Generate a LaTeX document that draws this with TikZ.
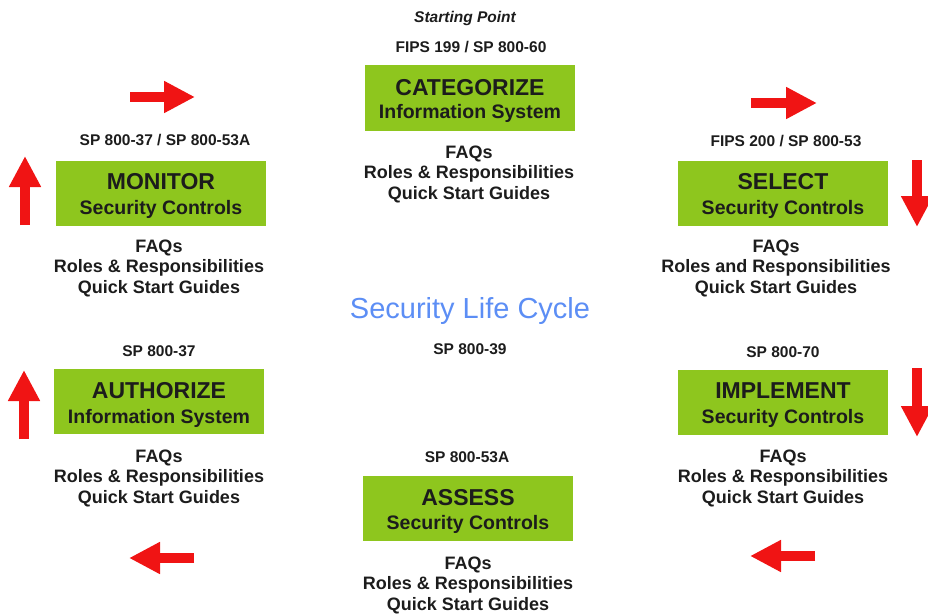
\documentclass[tikz,border=0pt]{standalone}
\usepackage{fontspec}
\setmainfont{Liberation Sans}
\usetikzlibrary{arrows.meta}
\definecolor{boxgreen}{RGB}{142,198,30}
\definecolor{arrred}{RGB}{240,20,20}
\definecolor{lifeblue}{RGB}{92,142,245}
\definecolor{textdark}{RGB}{28,28,28}
\begin{document}
\begin{tikzpicture}[x=1pt,y=-1pt,
  stepbox/.style={fill=boxgreen, minimum width=210pt, minimum height=65pt, inner sep=0pt},
  titletxt/.style={font=\fontsize{23}{26}\selectfont\bfseries, text=textdark, inner sep=0pt, text height=16.5pt, text depth=0pt},
  subtxt/.style={font=\fontsize{19.5}{22}\selectfont\bfseries, text=textdark, inner sep=0pt, text height=14pt, text depth=0pt},
  doctxt/.style={font=\fontsize{15.5}{18}\selectfont\bfseries, text=textdark, inner sep=0pt, text height=11.1pt, text depth=0pt},
  infotxt/.style={font=\fontsize{18}{20.5}\selectfont\bfseries, text=textdark, inner sep=0pt, align=center, anchor=north},
  redarrow/.style={draw=arrred, line width=10pt, -{Triangle[width=30pt,length=31pt]}, arrred}
]
\useasboundingbox (0,0) rectangle (928,615);

% CATEGORIZE
\node[font=\fontsize{15.5}{18}\selectfont\bfseries\itshape, text=textdark, inner sep=0pt, text height=11pt, text depth=0pt] (start) at (465,17) {Starting Point};
\node[doctxt] (catdoc) at (471,47) {FIPS 199 / SP 800-60};
\node[stepbox] (catbox) at (470,98) {};
\node[titletxt] (cattitle) at (470,87) {CATEGORIZE};
\node[subtxt] (catsub) at (470,112) {Information System};
\node[infotxt] (catinfo) at (469,145.5) {FAQs\\Roles \& Responsibilities\\Quick Start Guides};

% MONITOR
\node[doctxt] (mondoc) at (165,140) {SP 800-37 / SP 800-53A};
\node[stepbox] (monbox) at (161,193) {};
\node[titletxt] (montitle) at (161,181) {MONITOR};
\node[subtxt] (monsub) at (161,207) {Security Controls};
\node[infotxt] (moninfo) at (159,239.5) {FAQs\\Roles \& Responsibilities\\Quick Start Guides};

% SELECT
\node[doctxt] (seldoc) at (786,141) {FIPS 200 / SP 800-53};
\node[stepbox] (selbox) at (783,193) {};
\node[titletxt] (seltitle) at (783,181) {SELECT};
\node[subtxt] (selsub) at (783,207) {Security Controls};
\node[infotxt] (selinfo) at (776,239.5) {FAQs\\Roles and Responsibilities\\Quick Start Guides};

% centre
\node[font=\fontsize{29}{32}\selectfont, text=lifeblue, inner sep=0pt, text height=21pt, text depth=0pt] (life) at (470,308) {Security Life Cycle};
\node[doctxt] (ctrdoc) at (470,349) {SP 800-39};

% AUTHORIZE
\node[doctxt] (autdoc) at (159,351) {SP 800-37};
\node[stepbox] (autbox) at (159,401) {};
\node[titletxt] (auttitle) at (159,390) {AUTHORIZE};
\node[subtxt] (autsub) at (159,416) {Information System};
\node[infotxt] (autinfo) at (159,449.5) {FAQs\\Roles \& Responsibilities\\Quick Start Guides};

% IMPLEMENT
\node[doctxt] (impdoc) at (783,352) {SP 800-70};
\node[stepbox] (impbox) at (783,402) {};
\node[titletxt] (imptitle) at (783,390) {IMPLEMENT};
\node[subtxt] (impsub) at (783,416) {Security Controls};
\node[infotxt] (impinfo) at (783,449.5) {FAQs\\Roles \& Responsibilities\\Quick Start Guides};

% ASSESS
\node[doctxt] (assdoc) at (467,457) {SP 800-53A};
\node[stepbox] (assbox) at (468,508) {};
\node[titletxt] (asstitle) at (468,497) {ASSESS};
\node[subtxt] (asssub) at (468,522) {Security Controls};
\node[infotxt] (assinfo) at (468,556.5) {FAQs\\Roles \& Responsibilities\\Quick Start Guides};

% arrows
\coordinate (a1s) at (130,97);  \coordinate (a1e) at (195,97);
\coordinate (a2s) at (751,103); \coordinate (a2e) at (817,103);
\coordinate (a3s) at (917,160); \coordinate (a3e) at (917,227);
\coordinate (a4s) at (917,368); \coordinate (a4e) at (917,437);
\coordinate (a5s) at (815,556); \coordinate (a5e) at (750,556);
\coordinate (a6s) at (194,558); \coordinate (a6e) at (129,558);
\coordinate (a7s) at (24,439);  \coordinate (a7e) at (24,370);
\coordinate (a8s) at (25,225);  \coordinate (a8e) at (25,156);
\draw[redarrow] (a1s) -- (a1e);
\draw[redarrow] (a2s) -- (a2e);
\draw[redarrow] (a3s) -- (a3e);
\draw[redarrow] (a4s) -- (a4e);
\draw[redarrow] (a5s) -- (a5e);
\draw[redarrow] (a6s) -- (a6e);
\draw[redarrow] (a7s) -- (a7e);
\draw[redarrow] (a8s) -- (a8e);
\end{tikzpicture}
\end{document}
